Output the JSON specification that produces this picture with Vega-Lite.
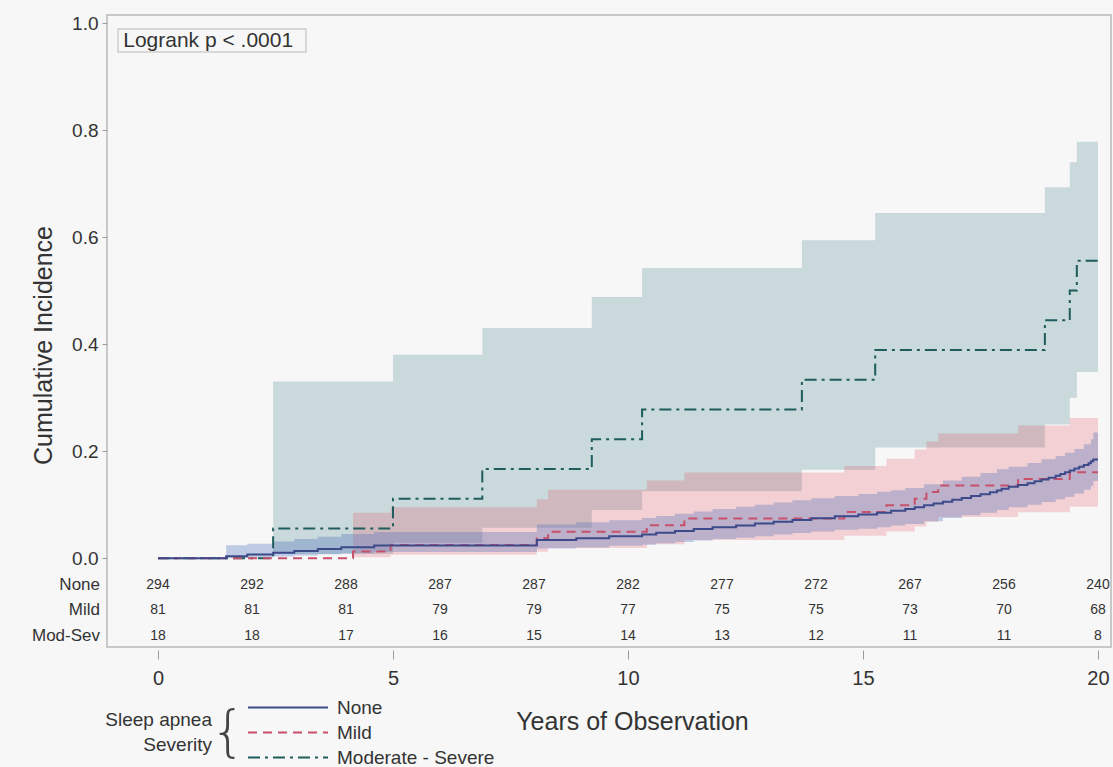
{
  "$schema": "https://vega.github.io/schema/vega-lite/v6.json",
  "width": 1004,
  "height": 632,
  "autosize": "none",
  "padding": {"left": 107, "top": 15, "right": 2, "bottom": 120},
  "background": "#f7f7f7",
  "config": {
    "font": "Liberation Sans",
    "view": {"stroke": "#c8c8c8", "strokeWidth": 2, "fill": "#f7f7f7"},
    "axis": {"grid": false, "domain": false, "labelColor": "#333333", "titleColor": "#333333", "tickColor": "#9a9a9a", "titleFontWeight": "normal"},
    "text": {"color": "#333333"}
  },
  "datasets": {
    "lines": [
      {"group": "Moderate - Severe", "years": 0, "incidence": 0},
      {"group": "Moderate - Severe", "years": 2.45, "incidence": 0.0556},
      {"group": "Moderate - Severe", "years": 5.0, "incidence": 0.1111},
      {"group": "Moderate - Severe", "years": 6.9, "incidence": 0.1667},
      {"group": "Moderate - Severe", "years": 9.23, "incidence": 0.2222},
      {"group": "Moderate - Severe", "years": 10.3, "incidence": 0.2778},
      {"group": "Moderate - Severe", "years": 13.7, "incidence": 0.3333},
      {"group": "Moderate - Severe", "years": 15.26, "incidence": 0.3889},
      {"group": "Moderate - Severe", "years": 18.87, "incidence": 0.4444},
      {"group": "Moderate - Severe", "years": 19.4, "incidence": 0.5},
      {"group": "Moderate - Severe", "years": 19.55, "incidence": 0.5556},
      {"group": "Moderate - Severe", "years": 20, "incidence": 0.5556},
      {"group": "Mild", "years": 0, "incidence": 0},
      {"group": "Mild", "years": 4.15, "incidence": 0.0123},
      {"group": "Mild", "years": 4.95, "incidence": 0.0247},
      {"group": "Mild", "years": 8.06, "incidence": 0.037},
      {"group": "Mild", "years": 8.3, "incidence": 0.0494},
      {"group": "Mild", "years": 10.4, "incidence": 0.0617},
      {"group": "Mild", "years": 11.2, "incidence": 0.0741},
      {"group": "Mild", "years": 14.6, "incidence": 0.0864},
      {"group": "Mild", "years": 15.5, "incidence": 0.0988},
      {"group": "Mild", "years": 16.1, "incidence": 0.1111},
      {"group": "Mild", "years": 16.35, "incidence": 0.1235},
      {"group": "Mild", "years": 16.6, "incidence": 0.1358},
      {"group": "Mild", "years": 18.3, "incidence": 0.1481},
      {"group": "Mild", "years": 19.4, "incidence": 0.1605},
      {"group": "Mild", "years": 20, "incidence": 0.1605},
      {"group": "None", "years": 0, "incidence": 0},
      {"group": "None", "years": 1.45, "incidence": 0.0034},
      {"group": "None", "years": 1.9, "incidence": 0.0068},
      {"group": "None", "years": 2.45, "incidence": 0.0102},
      {"group": "None", "years": 2.9, "incidence": 0.0136},
      {"group": "None", "years": 3.4, "incidence": 0.017},
      {"group": "None", "years": 3.9, "incidence": 0.0204},
      {"group": "None", "years": 4.6, "incidence": 0.0238},
      {"group": "None", "years": 8.06, "incidence": 0.034},
      {"group": "None", "years": 8.9, "incidence": 0.0374},
      {"group": "None", "years": 9.6, "incidence": 0.0408},
      {"group": "None", "years": 10.3, "incidence": 0.0442},
      {"group": "None", "years": 10.6, "incidence": 0.0476},
      {"group": "None", "years": 11.0, "incidence": 0.051},
      {"group": "None", "years": 11.4, "incidence": 0.0544},
      {"group": "None", "years": 11.8, "incidence": 0.0578},
      {"group": "None", "years": 12.3, "incidence": 0.0612},
      {"group": "None", "years": 12.7, "incidence": 0.0646},
      {"group": "None", "years": 13.1, "incidence": 0.068},
      {"group": "None", "years": 13.5, "incidence": 0.0714},
      {"group": "None", "years": 13.9, "incidence": 0.0748},
      {"group": "None", "years": 14.4, "incidence": 0.0782},
      {"group": "None", "years": 14.9, "incidence": 0.0816},
      {"group": "None", "years": 15.3, "incidence": 0.085},
      {"group": "None", "years": 15.6, "incidence": 0.0884},
      {"group": "None", "years": 15.9, "incidence": 0.0918},
      {"group": "None", "years": 16.1, "incidence": 0.0953},
      {"group": "None", "years": 16.3, "incidence": 0.0988},
      {"group": "None", "years": 16.5, "incidence": 0.1022},
      {"group": "None", "years": 16.7, "incidence": 0.1056},
      {"group": "None", "years": 16.9, "incidence": 0.109},
      {"group": "None", "years": 17.1, "incidence": 0.1125},
      {"group": "None", "years": 17.3, "incidence": 0.116},
      {"group": "None", "years": 17.5, "incidence": 0.1195},
      {"group": "None", "years": 17.7, "incidence": 0.123},
      {"group": "None", "years": 17.85, "incidence": 0.1264},
      {"group": "None", "years": 17.95, "incidence": 0.1298},
      {"group": "None", "years": 18.1, "incidence": 0.1333},
      {"group": "None", "years": 18.3, "incidence": 0.1367},
      {"group": "None", "years": 18.5, "incidence": 0.1401},
      {"group": "None", "years": 18.65, "incidence": 0.1435},
      {"group": "None", "years": 18.8, "incidence": 0.147},
      {"group": "None", "years": 18.95, "incidence": 0.1504},
      {"group": "None", "years": 19.1, "incidence": 0.1538},
      {"group": "None", "years": 19.2, "incidence": 0.1572},
      {"group": "None", "years": 19.3, "incidence": 0.1606},
      {"group": "None", "years": 19.4, "incidence": 0.164},
      {"group": "None", "years": 19.5, "incidence": 0.1674},
      {"group": "None", "years": 19.6, "incidence": 0.1708},
      {"group": "None", "years": 19.7, "incidence": 0.1742},
      {"group": "None", "years": 19.8, "incidence": 0.1776},
      {"group": "None", "years": 19.85, "incidence": 0.181},
      {"group": "None", "years": 19.9, "incidence": 0.1845},
      {"group": "None", "years": 20, "incidence": 0.1845}
    ],
    "bands": [
      {"group": "Moderate - Severe", "years": 2.45, "lower": 0.008, "upper": 0.33},
      {"group": "Moderate - Severe", "years": 5.0, "lower": 0.029, "upper": 0.38},
      {"group": "Moderate - Severe", "years": 6.9, "lower": 0.057, "upper": 0.43},
      {"group": "Moderate - Severe", "years": 9.23, "lower": 0.09, "upper": 0.488},
      {"group": "Moderate - Severe", "years": 10.3, "lower": 0.125, "upper": 0.542},
      {"group": "Moderate - Severe", "years": 13.7, "lower": 0.165, "upper": 0.594},
      {"group": "Moderate - Severe", "years": 15.26, "lower": 0.207, "upper": 0.645},
      {"group": "Moderate - Severe", "years": 18.87, "lower": 0.25, "upper": 0.693},
      {"group": "Moderate - Severe", "years": 19.4, "lower": 0.3, "upper": 0.74},
      {"group": "Moderate - Severe", "years": 19.55, "lower": 0.348, "upper": 0.778},
      {"group": "Moderate - Severe", "years": 20, "lower": 0.348, "upper": 0.778},
      {"group": "Mild", "years": 4.15, "lower": 0.0017, "upper": 0.085},
      {"group": "Mild", "years": 4.95, "lower": 0.0062, "upper": 0.095},
      {"group": "Mild", "years": 8.06, "lower": 0.012, "upper": 0.11},
      {"group": "Mild", "years": 8.3, "lower": 0.019, "upper": 0.128},
      {"group": "Mild", "years": 10.4, "lower": 0.026, "upper": 0.145},
      {"group": "Mild", "years": 11.2, "lower": 0.034, "upper": 0.16},
      {"group": "Mild", "years": 14.6, "lower": 0.042, "upper": 0.172},
      {"group": "Mild", "years": 15.5, "lower": 0.05, "upper": 0.186},
      {"group": "Mild", "years": 16.1, "lower": 0.059, "upper": 0.203},
      {"group": "Mild", "years": 16.35, "lower": 0.068, "upper": 0.218},
      {"group": "Mild", "years": 16.6, "lower": 0.077, "upper": 0.233},
      {"group": "Mild", "years": 18.3, "lower": 0.086, "upper": 0.248},
      {"group": "Mild", "years": 19.4, "lower": 0.096, "upper": 0.262},
      {"group": "Mild", "years": 20, "lower": 0.096, "upper": 0.262},
      {"group": "None", "years": 1.45, "lower": 0.0005, "upper": 0.024},
      {"group": "None", "years": 1.9, "lower": 0.0017, "upper": 0.027},
      {"group": "None", "years": 2.45, "lower": 0.0033, "upper": 0.031},
      {"group": "None", "years": 2.9, "lower": 0.0051, "upper": 0.036},
      {"group": "None", "years": 3.4, "lower": 0.0071, "upper": 0.04},
      {"group": "None", "years": 3.9, "lower": 0.0092, "upper": 0.045},
      {"group": "None", "years": 4.6, "lower": 0.0114, "upper": 0.049},
      {"group": "None", "years": 8.06, "lower": 0.018, "upper": 0.063},
      {"group": "None", "years": 8.9, "lower": 0.02, "upper": 0.067},
      {"group": "None", "years": 9.6, "lower": 0.023, "upper": 0.071},
      {"group": "None", "years": 10.3, "lower": 0.025, "upper": 0.075},
      {"group": "None", "years": 10.6, "lower": 0.028, "upper": 0.079},
      {"group": "None", "years": 11.0, "lower": 0.03, "upper": 0.083},
      {"group": "None", "years": 11.4, "lower": 0.033, "upper": 0.087},
      {"group": "None", "years": 11.8, "lower": 0.036, "upper": 0.092},
      {"group": "None", "years": 12.3, "lower": 0.038, "upper": 0.096},
      {"group": "None", "years": 12.7, "lower": 0.041, "upper": 0.1},
      {"group": "None", "years": 13.1, "lower": 0.044, "upper": 0.104},
      {"group": "None", "years": 13.5, "lower": 0.047, "upper": 0.108},
      {"group": "None", "years": 13.9, "lower": 0.05, "upper": 0.112},
      {"group": "None", "years": 14.4, "lower": 0.053, "upper": 0.116},
      {"group": "None", "years": 14.9, "lower": 0.055, "upper": 0.12},
      {"group": "None", "years": 15.3, "lower": 0.058, "upper": 0.124},
      {"group": "None", "years": 15.6, "lower": 0.061, "upper": 0.127},
      {"group": "None", "years": 15.9, "lower": 0.064, "upper": 0.131},
      {"group": "None", "years": 16.3, "lower": 0.069, "upper": 0.138},
      {"group": "None", "years": 16.7, "lower": 0.075, "upper": 0.145},
      {"group": "None", "years": 17.1, "lower": 0.08, "upper": 0.152},
      {"group": "None", "years": 17.5, "lower": 0.085, "upper": 0.159},
      {"group": "None", "years": 17.85, "lower": 0.09, "upper": 0.166},
      {"group": "None", "years": 18.1, "lower": 0.095, "upper": 0.171},
      {"group": "None", "years": 18.5, "lower": 0.1, "upper": 0.178},
      {"group": "None", "years": 18.8, "lower": 0.105, "upper": 0.185},
      {"group": "None", "years": 19.1, "lower": 0.11, "upper": 0.191},
      {"group": "None", "years": 19.3, "lower": 0.115, "upper": 0.197},
      {"group": "None", "years": 19.5, "lower": 0.121, "upper": 0.204},
      {"group": "None", "years": 19.7, "lower": 0.128, "upper": 0.213},
      {"group": "None", "years": 19.85, "lower": 0.135, "upper": 0.222},
      {"group": "None", "years": 19.9, "lower": 0.144, "upper": 0.235},
      {"group": "None", "years": 20, "lower": 0.144, "upper": 0.235}
    ],
    "risk": [
      {"group": "None", "years": 0, "n": 294}, {"group": "None", "years": 2, "n": 292}, {"group": "None", "years": 4, "n": 288}, {"group": "None", "years": 6, "n": 287}, {"group": "None", "years": 8, "n": 287}, {"group": "None", "years": 10, "n": 282}, {"group": "None", "years": 12, "n": 277}, {"group": "None", "years": 14, "n": 272}, {"group": "None", "years": 16, "n": 267}, {"group": "None", "years": 18, "n": 256}, {"group": "None", "years": 20, "n": 240},
      {"group": "Mild", "years": 0, "n": 81}, {"group": "Mild", "years": 2, "n": 81}, {"group": "Mild", "years": 4, "n": 81}, {"group": "Mild", "years": 6, "n": 79}, {"group": "Mild", "years": 8, "n": 79}, {"group": "Mild", "years": 10, "n": 77}, {"group": "Mild", "years": 12, "n": 75}, {"group": "Mild", "years": 14, "n": 75}, {"group": "Mild", "years": 16, "n": 73}, {"group": "Mild", "years": 18, "n": 70}, {"group": "Mild", "years": 20, "n": 68},
      {"group": "Mod-Sev", "years": 0, "n": 18}, {"group": "Mod-Sev", "years": 2, "n": 18}, {"group": "Mod-Sev", "years": 4, "n": 17}, {"group": "Mod-Sev", "years": 6, "n": 16}, {"group": "Mod-Sev", "years": 8, "n": 15}, {"group": "Mod-Sev", "years": 10, "n": 14}, {"group": "Mod-Sev", "years": 12, "n": 13}, {"group": "Mod-Sev", "years": 14, "n": 12}, {"group": "Mod-Sev", "years": 16, "n": 11}, {"group": "Mod-Sev", "years": 18, "n": 11}, {"group": "Mod-Sev", "years": 20, "n": 8}
    ]
  },
  "layer": [
    {
      "data": {"name": "bands"},
      "mark": {"type": "area", "interpolate": "step-after"},
      "encoding": {
        "x": {"field": "years", "type": "quantitative", "scale": {"domain": [-1.085, 20.277], "nice": false, "zero": false},
          "axis": {"title": "Years of Observation", "values": [0, 5, 10, 15, 20], "format": "d", "offset": 3, "tickSize": 9, "labelFontSize": 20, "labelPadding": 9, "labelFlush": false, "labelOverlap": false, "titleFontSize": 25, "titlePadding": 21, "titleX": 525}},
        "y": {"field": "lower", "type": "quantitative", "scale": {"domain": [-0.166, 1.015], "nice": false, "zero": false},
          "axis": {"title": "Cumulative Incidence", "values": [0, 0.2, 0.4, 0.6, 0.8, 1], "format": ".1f", "tickSize": 5, "labelFontSize": 19, "labelPadding": 4, "titleFontSize": 25, "titlePadding": 15, "titleY": 330}},
        "y2": {"field": "upper"},
        "fill": {"field": "group", "type": "nominal", "scale": {"domain": ["Moderate - Severe", "Mild", "None"], "range": ["#74a1aa", "#e35462", "#3a62b8"]}, "legend": null},
        "opacity": {"field": "group", "type": "nominal", "scale": {"domain": ["Moderate - Severe", "None", "Mild"], "range": [0.35, 0.24, 0.35]}, "legend": null}
      }
    },
    {
      "data": {"name": "lines"},
      "mark": {"type": "line", "interpolate": "step-after", "strokeWidth": 2},
      "encoding": {
        "x": {"field": "years", "type": "quantitative", "scale": {"domain": [-1.085, 20.277], "nice": false, "zero": false}},
        "y": {"field": "incidence", "type": "quantitative", "scale": {"domain": [-0.166, 1.015], "nice": false, "zero": false}},
        "color": {"field": "group", "type": "nominal", "scale": {"domain": ["None", "Mild", "Moderate - Severe"], "range": ["#3d4a8a", "#c8506a", "#1f5c5c"]},
          "legend": {"orient": "none", "legendX": -2, "legendY": 680, "title": ["Sleep apnea", "Severity"], "titleOrient": "left", "titleAlign": "right", "titleAnchor": "middle", "titleBaseline": "middle", "titleFontSize": 19, "titleFontWeight": "normal", "titleLineHeight": 25, "titlePadding": -72, "titleColor": "#333333", "symbolType": "stroke", "symbolSize": 6400, "symbolStrokeWidth": 2, "clipHeight": 25, "rowPadding": 0, "labelFontSize": 19, "labelOffset": 8, "labelColor": "#333333"}},
        "strokeDash": {"field": "group", "type": "nominal", "scale": {"domain": ["None", "Mild", "Moderate - Severe"], "range": [[1, 0], [9, 6], [12, 5, 3, 5]]},
          "legend": {"orient": "none", "legendX": -2, "legendY": 680, "title": ["Sleep apnea", "Severity"], "titleOrient": "left", "titleAlign": "right", "titleAnchor": "middle", "titleBaseline": "middle", "titleFontSize": 19, "titleFontWeight": "normal", "titleLineHeight": 25, "titlePadding": -72, "titleColor": "#333333", "symbolType": "stroke", "symbolSize": 6400, "symbolStrokeWidth": 2, "clipHeight": 25, "rowPadding": 0, "labelFontSize": 19, "labelOffset": 8, "labelColor": "#333333"}}
      }
    },
    {
      "data": {"name": "risk"},
      "transform": [{"filter": "datum.group === 'None'"}],
      "mark": {"type": "text", "fontSize": 14, "align": "center", "baseline": "middle"},
      "encoding": {
        "x": {"field": "years", "type": "quantitative", "scale": {"domain": [-1.085, 20.277], "nice": false, "zero": false}},
        "y": {"datum": -0.0505, "type": "quantitative", "scale": {"domain": [-0.166, 1.015], "nice": false, "zero": false}},
        "text": {"field": "n", "type": "quantitative"}
      }
    },
    {
      "data": {"name": "risk"},
      "transform": [{"filter": "datum.group === 'Mild'"}],
      "mark": {"type": "text", "fontSize": 14, "align": "center", "baseline": "middle"},
      "encoding": {
        "x": {"field": "years", "type": "quantitative", "scale": {"domain": [-1.085, 20.277], "nice": false, "zero": false}},
        "y": {"datum": -0.0972, "type": "quantitative", "scale": {"domain": [-0.166, 1.015], "nice": false, "zero": false}},
        "text": {"field": "n", "type": "quantitative"}
      }
    },
    {
      "data": {"name": "risk"},
      "transform": [{"filter": "datum.group === 'Mod-Sev'"}],
      "mark": {"type": "text", "fontSize": 14, "align": "center", "baseline": "middle"},
      "encoding": {
        "x": {"field": "years", "type": "quantitative", "scale": {"domain": [-1.085, 20.277], "nice": false, "zero": false}},
        "y": {"datum": -0.1458, "type": "quantitative", "scale": {"domain": [-0.166, 1.015], "nice": false, "zero": false}},
        "text": {"field": "n", "type": "quantitative"}
      }
    },
    {
      "data": {"values": [{"label": "None"}]},
      "mark": {"type": "text", "fontSize": 17, "align": "right", "baseline": "middle"},
      "encoding": {
        "x": {"datum": -1.234, "type": "quantitative", "scale": {"domain": [-1.085, 20.277], "nice": false, "zero": false}},
        "y": {"datum": -0.0505, "type": "quantitative", "scale": {"domain": [-0.166, 1.015], "nice": false, "zero": false}},
        "text": {"field": "label"}
      }
    },
    {
      "data": {"values": [{"label": "Mild"}]},
      "mark": {"type": "text", "fontSize": 17, "align": "right", "baseline": "middle"},
      "encoding": {
        "x": {"datum": -1.234, "type": "quantitative", "scale": {"domain": [-1.085, 20.277], "nice": false, "zero": false}},
        "y": {"datum": -0.0972, "type": "quantitative", "scale": {"domain": [-0.166, 1.015], "nice": false, "zero": false}},
        "text": {"field": "label"}
      }
    },
    {
      "data": {"values": [{"label": "Mod-Sev"}]},
      "mark": {"type": "text", "fontSize": 17, "align": "right", "baseline": "middle"},
      "encoding": {
        "x": {"datum": -1.234, "type": "quantitative", "scale": {"domain": [-1.085, 20.277], "nice": false, "zero": false}},
        "y": {"datum": -0.1458, "type": "quantitative", "scale": {"domain": [-0.166, 1.015], "nice": false, "zero": false}},
        "text": {"field": "label"}
      }
    },
    {
      "data": {"values": [{}]},
      "mark": {"type": "rect", "fill": "#f7f7f7", "stroke": "#cfcfcf", "strokeWidth": 1.5},
      "encoding": {
        "x": {"datum": -0.851, "type": "quantitative", "scale": {"domain": [-1.085, 20.277], "nice": false, "zero": false}},
        "x2": {"datum": 3.149},
        "y": {"datum": 0.9888, "type": "quantitative", "scale": {"domain": [-0.166, 1.015], "nice": false, "zero": false}},
        "y2": {"datum": 0.9458}
      }
    },
    {
      "data": {"values": [{"label": "Logrank p < .0001"}]},
      "mark": {"type": "text", "fontSize": 21, "align": "left", "baseline": "middle"},
      "encoding": {
        "x": {"datum": -0.74, "type": "quantitative", "scale": {"domain": [-1.085, 20.277], "nice": false, "zero": false}},
        "y": {"datum": 0.967, "type": "quantitative", "scale": {"domain": [-0.166, 1.015], "nice": false, "zero": false}},
        "text": {"field": "label"}
      }
    },
    {
      "data": {"values": [{"label": "{"}]},
      "mark": {"type": "text", "fontSize": 56, "font": "DejaVu Sans", "fontWeight": 200, "align": "center", "baseline": "middle", "color": "#444444"},
      "encoding": {
        "x": {"datum": 1.489, "type": "quantitative", "scale": {"domain": [-1.085, 20.277], "nice": false, "zero": false}},
        "y": {"datum": -0.327, "type": "quantitative", "scale": {"domain": [-0.166, 1.015], "nice": false, "zero": false}},
        "text": {"field": "label"}
      }
    }
  ]
}
